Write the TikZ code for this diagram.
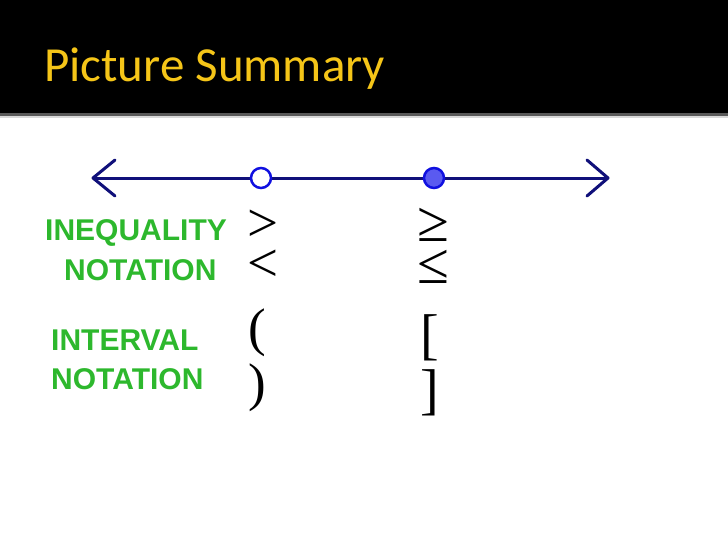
\documentclass[tikz,border=0pt]{standalone}
\usepackage{fontspec}
\setmainfont{Liberation Serif}
\newfontfamily\titlefont{Carlito}
\newfontfamily\greenfont{Liberation Sans}
\usetikzlibrary{arrows.meta}
\definecolor{titleyellow}{HTML}{F5C518}
\definecolor{navy}{HTML}{10107A}
\definecolor{dotblue}{HTML}{1010E0}
\definecolor{dotfill}{HTML}{5A5AF0}
\definecolor{labelgreen}{HTML}{2DB82D}
\tikzset{
  lbl/.style={font=\greenfont\bfseries\fontsize{30}{30}\selectfont, text=labelgreen, inner sep=0pt, anchor=base west},
  sym/.style={font=\fontsize{55}{55}\selectfont, inner sep=0pt, anchor=base west, text height=30pt, text depth=0pt},
  rel/.style={sym, font=\fontsize{58}{58}\selectfont},
  chev/.style={draw=navy, line width=3pt, line cap=round, line join=round}
}
\begin{document}
\begin{tikzpicture}[x=1pt,y=-1pt]
\useasboundingbox (0,0) rectangle (728,546);
\fill[white] (0,0) rectangle (728,546);
\fill[black] (0,0) rectangle (728,113);
\fill[gray!70!black] (0,113) rectangle (728,116);
\fill[gray!30] (0,116) rectangle (728,118);
\node[font=\titlefont\fontsize{49}{49}\selectfont, text=titleyellow, inner sep=0pt, anchor=base west] (title) at (44,81) {Picture Summary};
% number line
\coordinate (L) at (93,178);
\coordinate (R) at (608,178);
\draw[navy, line width=3pt] (L) -- (R);
\draw[chev] (115,160) -- (L) -- (115,196);
\draw[chev] (587,160) -- (R) -- (587,196);
\node[circle, draw=dotblue, line width=2.5pt, fill=white, minimum size=20pt, inner sep=0pt] (open) at (261,178) {};
\node[circle, draw=dotblue, line width=2.5pt, fill=dotfill, minimum size=20pt, inner sep=0pt] (closed) at (434,178) {};
% labels
\node[lbl] (ineq) at (45,240) {INEQUALITY};
\node[lbl] (nota1) at (64,280) {NOTATION};
\node[lbl] (inter) at (51,350) {INTERVAL};
\node[lbl] (nota2) at (51,389) {NOTATION};
% symbols
\node[sym] (gt) at (247,241) {>};
\node[sym] (lt) at (247,281) {<};
\node[rel] (ge) at (417,241) {≥};
\node[rel] (le) at (417,283) {≤};
\node[sym, font=\fontsize{53}{53}\selectfont] (lp) at (248,345) {(};
\node[sym, font=\fontsize{53}{53}\selectfont] (rp) at (248,400) {)};
\node[sym, font=\fontsize{56}{56}\selectfont] (lb) at (420,353) {[};
\node[sym, font=\fontsize{56}{56}\selectfont] (rb) at (420,408) {]};
\end{tikzpicture}
\end{document}
